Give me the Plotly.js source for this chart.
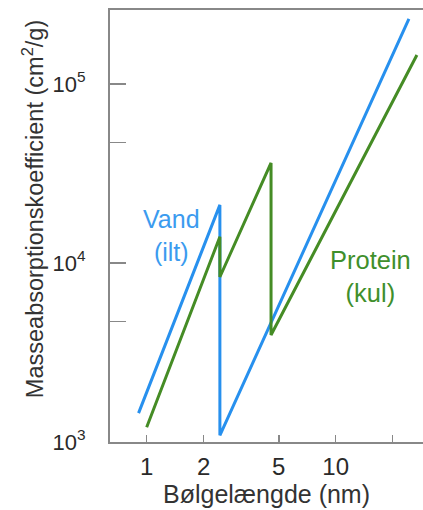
<!DOCTYPE html>
<html>
<head>
<meta charset="utf-8">
<script src="https://cdn.plot.ly/plotly-3.0.1.min.js"></script>
<style>html,body{margin:0;padding:0;background:#fff;}#chart{width:423px;height:510px;}</style>
</head>
<body>
<div id="chart"></div>
<script>
// Vand (ilt)
const waterX = [0.906, 2.44, 2.44, 24.4];
const waterY = [1450, 21100, 1090, 231000];
// Protein (kul)
const proteinX = [1.0, 2.44, 2.44, 4.55, 4.55, 26.9];
const proteinY = [1210, 14000, 8350, 36200, 3960, 145000];

const xTickVals = [1, 2, 5, 10];
const xTickText = ["1", "2", "5", "10"];
const xMinorVals = [20];
const yTickVals = [1000, 10000, 100000];
const yTickText = ["10<sup>3</sup>", "10<sup>4</sup>", "10<sup>5</sup>"];
const yMinorVals = [4700, 47000];

const FONT = "Liberation Sans, Arial, sans-serif";
const BLUE = "#2790ee";
const GREEN = "#458c25";

const traces = [
  {x: waterX, y: waterY, mode: "lines", line: {color: BLUE, width: 3}, name: "Vand (ilt)"},
  {x: proteinX, y: proteinY, mode: "lines", line: {color: GREEN, width: 3}, name: "Protein (kul)"}
];

const layout = {
  width: 423, height: 510,
  margin: {l: 110, r: 0, t: 10, b: 68},
  paper_bgcolor: "#fff", plot_bgcolor: "#fff",
  showlegend: false,
  font: {family: FONT, color: "#2a2a2a", size: 22},
  xaxis: {
    type: "log", range: [-0.194, 1.462],
    tickmode: "array", tickvals: xTickVals, ticktext: xTickText,
    ticks: "inside", ticklen: 7, tickcolor: "#888", tickwidth: 1.5,
    minor: {tickmode: "array", tickvals: xMinorVals, ticks: "inside", ticklen: 7, tickcolor: "#888", tickwidth: 1.5, showgrid: false},
    showline: true, linecolor: "#888", linewidth: 2, mirror: true,
    showgrid: false, zeroline: false,
    tickfont: {size: 24, color: "#2a2a2a"},
    ticklabelstandoff: 2,
    title: {text: "Bølgelængde (nm)", font: {size: 25, color: "#333"}, standoff: 6}
  },
  yaxis: {
    type: "log", range: [3, 5.413],
    tickmode: "array", tickvals: yTickVals, ticktext: yTickText,
    ticks: "inside", ticklen: 16, tickcolor: "#888", tickwidth: 1.5,
    minor: {tickmode: "array", tickvals: yMinorVals, ticks: "inside", ticklen: 16, tickcolor: "#888", tickwidth: 1.5, showgrid: false},
    showline: true, linecolor: "#888", linewidth: 2, mirror: false,
    showgrid: false, zeroline: false,
    tickfont: {size: 22, color: "#2a2a2a"},
    ticklabelstandoff: 18
  },
  annotations: [
    {xref: "paper", yref: "paper", x: -0.246, y: 0.539, text: "Masseabsorptionskoefficient (cm<sup>2</sup>/g)",
     textangle: -90, showarrow: false, font: {size: 23.5, color: "#333"}, xanchor: "center", yanchor: "middle"},
    {xref: "x", yref: "y", x: 0.129, y: 4.156, text: "Vand<br>(ilt)", showarrow: false,
     font: {size: 25, color: "#3b9bef"}, xanchor: "center", yanchor: "middle"},
    {xref: "x", yref: "y", x: 1.184, y: 3.922, text: "Protein<br>(kul)", showarrow: false,
     font: {size: 25.5, color: "#3f8f2c"}, xanchor: "center", yanchor: "middle"}
  ]
};

Plotly.newPlot("chart", traces, layout, {displayModeBar: false, staticPlot: true});
</script>
</body>
</html>
